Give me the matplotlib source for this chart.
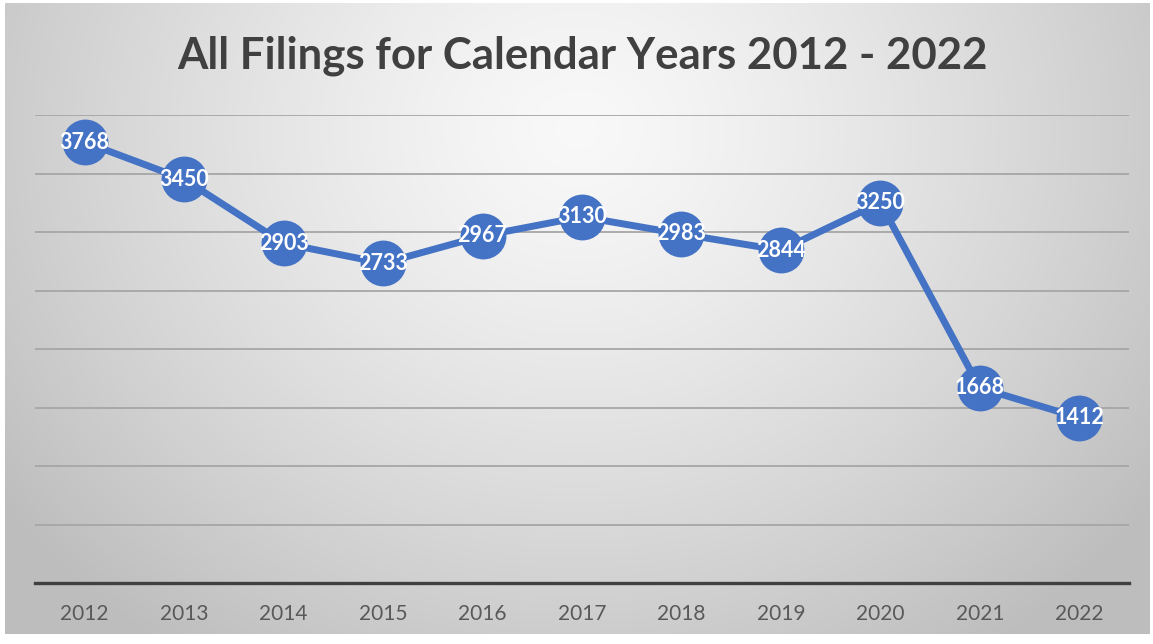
import numpy as np
import matplotlib
matplotlib.use('Agg')
import matplotlib.pyplot as plt

years = ['2012', '2013', '2014', '2015', '2016', '2017', '2018', '2019', '2020', '2021', '2022']
filings = [3768, 3450, 2903, 2733, 2967, 3130, 2983, 2844, 3250, 1668, 1412]
title = 'All Filings for Calendar Years 2012 - 2022'

plt.rcParams['font.family'] = ['Lato', 'DejaVu Sans']

W, H = 1153, 644
fig = plt.figure(figsize=(W / 100, H / 100), dpi=100)
fig.patch.set_facecolor('white')

# radial gradient background of the chart box
bx0, by0, bx1, by1 = 5, 3, 1150, 634
bg = fig.add_axes([bx0 / W, 1 - by1 / H, (bx1 - bx0) / W, (by1 - by0) / H])
gx, gy = np.meshgrid(np.linspace(0, 1, 600), np.linspace(0, 1, 340))
r = np.sqrt(((gx - 0.5) / 0.62) ** 2 + ((gy - 0.2) / 1.0) ** 2)
r = np.clip(r, 0, 1)
grad = 0.975 - 0.23 * r ** 1.3
bg.imshow(np.dstack([grad] * 3), aspect='auto', extent=[0, 1, 1, 0], interpolation='bilinear')
bg.set_axis_off()

ax = fig.add_axes([35 / W, 1 - 583 / H, (1129 - 35) / W, (583 - 115) / H])
ax.set_facecolor('none')
x = np.arange(len(years))
ax.plot(x, filings, color='#4472C4', lw=5, marker='o', markersize=33,
        markeredgewidth=0, solid_capstyle='round', zorder=3)
for xi, v in zip(x, filings):
    ax.text(xi, v, str(v), ha='center', va='center', color='white',
            fontsize=15.5, fontweight='bold', zorder=4)

ax.set_xlim(-0.5, len(years) - 0.5)
ax.set_ylim(0, 4000)
ax.set_yticks(np.arange(500, 4001, 500))
ax.yaxis.grid(True, color='#a6a6a6', lw=1.3)
ax.set_axisbelow(True)
ax.tick_params(axis='y', left=False, labelleft=False)
ax.set_xticks(x)
ax.set_xticklabels(years, fontsize=15, color='#595959')
ax.tick_params(axis='x', length=0, pad=15)
for s in ['top', 'right', 'left']:
    ax.spines[s].set_visible(False)
ax.spines['bottom'].set_color('#404040')
ax.spines['bottom'].set_linewidth(2.4)

fig.text(582 / W, 1 - 56 / H, title, ha='center', va='center',
         fontsize=31.5, fontweight='bold', color='#404040')

fig.savefig('out.png', dpi=100)
